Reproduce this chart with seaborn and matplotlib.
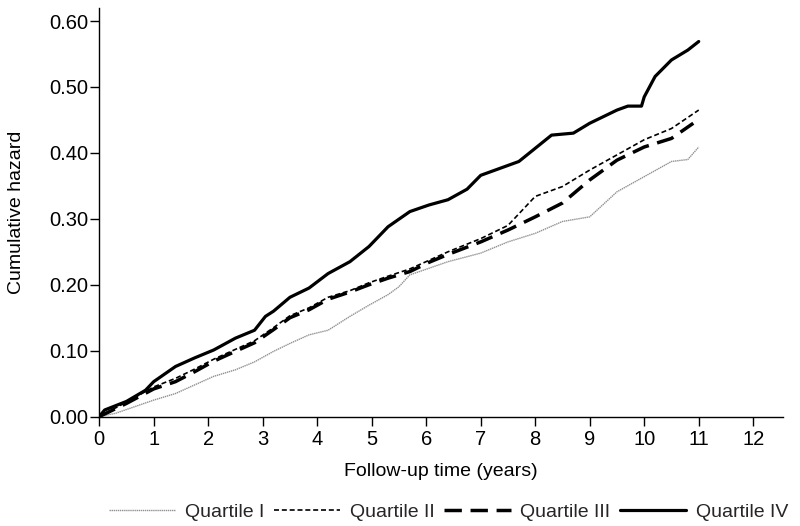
import matplotlib
matplotlib.use("Agg")
import matplotlib.pyplot as plt
import seaborn as sns
import pandas as pd

# Data (time in years, cumulative hazard)
q1_t = [0, 0.3, 0.65, 1.0, 1.4, 1.75, 2.1, 2.5, 2.85, 3.2, 3.5, 3.85, 4.2, 4.6, 4.95, 5.3, 5.5, 5.7,
        6.05, 6.4, 7.0, 7.5, 8.0, 8.5, 9.0, 9.5, 10.0, 10.5, 10.8, 11.0]
q1_v = [0, 0.005, 0.015, 0.025, 0.035, 0.048, 0.061, 0.071, 0.083, 0.099, 0.111, 0.124, 0.131, 0.152,
        0.169, 0.185, 0.197, 0.215, 0.225, 0.235, 0.248, 0.265, 0.278, 0.296, 0.303, 0.341, 0.364,
        0.387, 0.39, 0.409]

q2_t = [0, 0.5, 1.0, 1.4, 1.75, 2.1, 2.5, 2.85, 3.2, 3.5, 3.85, 4.2, 4.6, 4.95, 5.3, 5.7, 6.05, 6.4,
        7.0, 7.5, 8.0, 8.5, 9.0, 9.5, 10.0, 10.5, 11.0]
q2_v = [0, 0.022, 0.045, 0.058, 0.072, 0.087, 0.102, 0.115, 0.135, 0.153, 0.165, 0.181, 0.191, 0.203,
        0.213, 0.224, 0.237, 0.25, 0.27, 0.29, 0.334, 0.349, 0.374, 0.397, 0.42, 0.437, 0.465]

q3_t = [0, 0.5, 1.0, 1.4, 1.75, 2.1, 2.5, 2.85, 3.2, 3.5, 3.85, 4.2, 4.6, 4.95, 5.3, 5.7, 6.05, 6.4,
        7.0, 7.5, 8.0, 8.5, 9.0, 9.5, 10.0, 10.5, 10.9]
q3_v = [0, 0.02, 0.042, 0.053, 0.068, 0.084, 0.099, 0.112, 0.132, 0.15, 0.162, 0.178, 0.189, 0.2,
        0.21, 0.22, 0.234, 0.246, 0.265, 0.283, 0.303, 0.324, 0.359, 0.389, 0.409, 0.422, 0.445]

q4_t = [0, 0.1, 0.5, 0.85, 1.0, 1.4, 1.75, 2.1, 2.5, 2.85, 3.05, 3.2, 3.5, 3.85, 4.2, 4.6, 4.95, 5.3,
        5.7, 6.05, 6.4, 6.75, 7.0, 7.4, 7.7, 8.0, 8.3, 8.7, 9.0, 9.5, 9.7, 9.95, 10.0, 10.2, 10.5,
        10.8, 11.0]
q4_v = [0, 0.01, 0.023, 0.04, 0.053, 0.076, 0.089, 0.101, 0.119, 0.131, 0.152, 0.160, 0.181, 0.195,
        0.217, 0.235, 0.258, 0.288, 0.311, 0.321, 0.329, 0.345, 0.366, 0.378, 0.387, 0.407, 0.427,
        0.43, 0.445, 0.465, 0.471, 0.471, 0.485, 0.516, 0.541, 0.556, 0.569]

labels = ["Quartile I", "Quartile II", "Quartile III", "Quartile IV"]
x_ticks = list(range(0, 13))
y_ticks = [0.0, 0.1, 0.2, 0.3, 0.4, 0.5, 0.6]

sns.set_style("ticks")
plt.rcParams["font.family"] = ["Liberation Sans", "DejaVu Sans"]

fig = plt.figure(figsize=(8, 5.26), dpi=100)
ax = fig.add_axes([0.124, 0.208, 0.855, 0.777])

series = [(q1_t, q1_v), (q2_t, q2_v), (q3_t, q3_v), (q4_t, q4_v)]
styles = [
    dict(color="#909090", lw=1.0, dashes=(1, 0.5)),
    dict(color="black", lw=1.2, dashes=(3, 1.7)),
    dict(color="black", lw=2.5, dashes=(5, 2.5)),
    dict(color="black", lw=2.3, dashes=None),
]
handles = []
for (t, v), lab, st in zip(series, labels, styles):
    df = pd.DataFrame({"t": t, "v": v})
    sns.lineplot(data=df, x="t", y="v", ax=ax, color=st["color"], linewidth=st["lw"],
                 estimator=None, sort=False)
    line = ax.lines[-1]
    if st["dashes"] is not None:
        line.set_dashes(st["dashes"])
    handles.append(line)

ax.set_xlim(0, 12.55)
ax.set_ylim(0, 0.62)
ax.set_xticks(x_ticks)
ax.set_xticklabels([str(x) for x in x_ticks])
ax.set_yticks(y_ticks)
ax.set_yticklabels([f"{y:.2f}" for y in y_ticks])
sns.despine(ax=ax)
for s in ax.spines.values():
    s.set_linewidth(1.0)
    s.set_color("black")
ax.tick_params(axis="both", labelsize=14.5, length=6.5, width=1, direction="out",
               color="black", labelcolor="black")
ax.tick_params(axis="y", pad=1.5)
ax.tick_params(axis="x", pad=3)
ax.set_xlabel("Follow-up time (years)", fontsize=14, labelpad=10, color="black")
ax.set_ylabel("Cumulative hazard", fontsize=14, color="black")
ax.yaxis.set_label_coords(-0.108, 0.5)

fig.legend(handles, labels, loc="center", bbox_to_anchor=(0.561, 0.027), ncol=4, frameon=False,
           fontsize=14, handlelength=3.4, handletextpad=0.5, columnspacing=0.5)

fig.savefig("out.png", dpi=100)
